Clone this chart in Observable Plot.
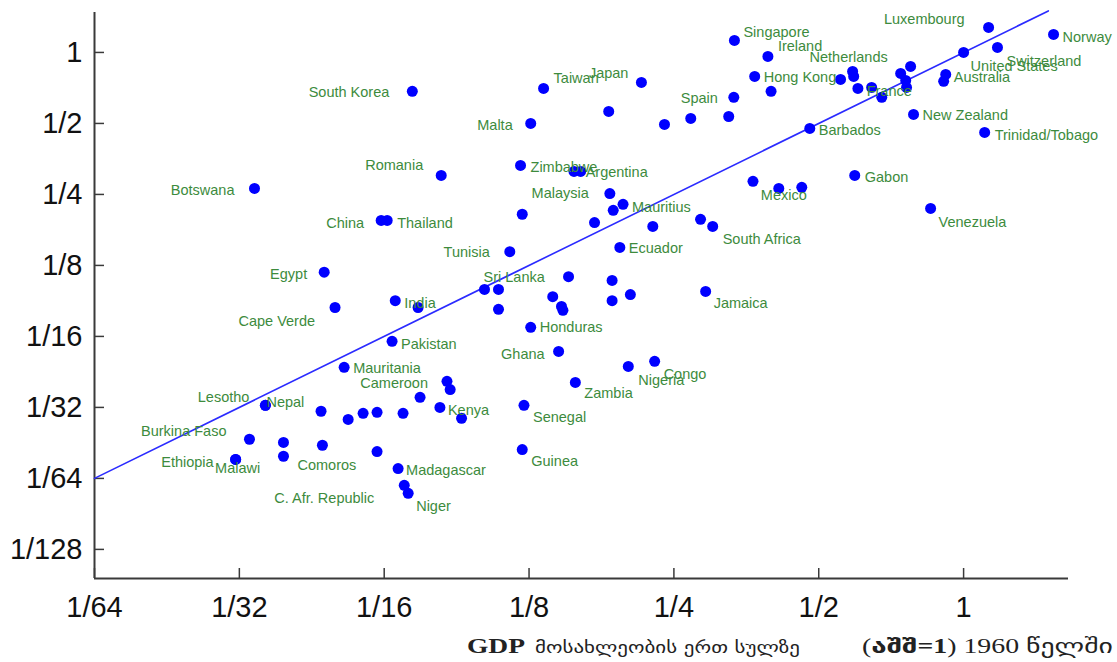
<!DOCTYPE html>
<html><head><meta charset="utf-8">
<script src="https://cdn.jsdelivr.net/npm/d3@7"></script>
<script src="https://cdn.jsdelivr.net/npm/@observablehq/plot@0.6"></script>
<style>
body{margin:0;background:#fff;}
#wrap{position:relative;width:1117px;height:662px;overflow:hidden;background:#fff;}
#chart{position:absolute;left:0;top:0;}
#ytitle{position:absolute;left:0px;top:-16px;font-size:19px;font-family:"Liberation Serif","DejaVu Sans",serif;color:#222;white-space:nowrap;}
#caption{position:absolute;left:0;top:628px;}
</style></head>
<body><div id="wrap"><div id="ytitle">(<b>აშშ=1</b>) 2000 წელში</div><div id="chart"></div>
<svg id="caption" width="1117" height="34">
  <text x="467" y="25" font-family="Liberation Serif, serif" font-weight="bold" font-size="22" fill="#222" textLength="58" lengthAdjust="spacingAndGlyphs">GDP</text>
  <text x="535" y="25" font-family="DejaVu Sans, sans-serif" font-size="16" fill="#222" textLength="265" lengthAdjust="spacingAndGlyphs">მოსახლეობის ერთ სულზე</text>
  <text x="862" y="25" font-family="Liberation Serif, DejaVu Sans, serif" font-size="20" fill="#222" textLength="251" lengthAdjust="spacingAndGlyphs">(<tspan font-weight="bold">აშშ=1</tspan>) 1960 წელში</text>
</svg>
</div>
<script>
const countries = ["South Korea","Botswana","Taiwan","Japan","","Malta","","","Spain","",
"Singapore","Ireland","Hong Kong","","","Netherlands","","","France","",
"","","","","United States","Luxembourg","Switzerland","Norway","Australia","",
"New Zealand","Trinidad/Tobago","Barbados","Gabon","","Mexico","","Venezuela","Romania","Zimbabwe",
"","Argentina","Malaysia","Mauritius","","","","","South Africa","",
"Ecuador","Tunisia","China","Thailand","Egypt","Cape Verde","India","","Sri Lanka","",
"","","","","","","","","Jamaica","Honduras",
"Pakistan","Ghana","Nigeria","Congo","Zambia","Mauritania","Cameroon","","","Kenya",
"","Senegal","Guinea","","","Madagascar","C. Afr. Republic","Niger","","Nepal",
"Lesotho","","","","Burkina Faso","","Comoros","","Ethiopia","Malawi"];
const gdp1960 = [0.0715,0.0336,0.134,0.214,0.183,0.126,0.239,0.271,0.333,0.325,
0.334,0.392,0.368,0.398,0.555,0.588,0.591,0.603,0.644,0.676,
0.740,0.776,0.758,0.761,1,1.127,1.176,1.538,0.918,0.909,
0.787,1.106,0.479,0.594,0.365,0.413,0.461,0.854,0.0821,0.120,
0.155,0.160,0.184,0.196,0.187,0.121,0.171,0.284,0.301,0.226,
0.193,0.114,0.0616,0.0634,0.0469,0.0494,0.0659,0.0735,0.101,0.108,
0.151,0.186,0.140,0.146,0.147,0.186,0.203,0.108,0.291,0.126,
0.0649,0.144,0.201,0.228,0.156,0.0516,0.0844,0.0857,0.0742,0.0816,
0.0905,0.122,0.121,0.0684,0.0604,0.0668,0.0688,0.0701,0.0604,0.0354,
0.0354,0.0462,0.0526,0.0565,0.0328,0.0386,0.0386,0.0465,0.0307,0.0307];
const gdp2000 = [0.684,0.265,0.704,0.746,0.562,0.500,0.495,0.525,0.645,0.535,
1.124,0.962,0.791,0.684,0.768,0.831,0.791,0.704,0.711,0.645,
0.815,0.872,0.761,0.711,1,1.276,1.050,1.192,0.807,0.754,
0.546,0.458,0.476,0.301,0.284,0.265,0.268,0.218,0.301,0.332,
0.313,0.313,0.252,0.227,0.214,0.206,0.190,0.196,0.183,0.183,
0.149,0.143,0.194,0.194,0.117,0.0829,0.0886,0.0829,0.0989,0.0989,
0.112,0.108,0.0921,0.0838,0.0806,0.0886,0.0940,0.0814,0.0970,0.0683,
0.0596,0.0540,0.0466,0.0490,0.0399,0.0462,0.0403,0.0372,0.0345,0.03125,
0.0281,0.0319,0.0207,0.0295,0.0298,0.0172,0.0146,0.0135,0.0203,0.0319,
0.0319,0.0301,0.0278,0.0295,0.0229,0.0222,0.0194,0.0216,0.0188,0.0188];
const xTicks = [1/64,1/32,1/16,1/8,1/4,1/2,1];
const xTickLabels = ["1/64","1/32","1/16","1/8","1/4","1/2","1"];
const yTicks = [1/128,1/64,1/32,1/16,1/8,1/4,1/2,1];
const yTickLabels = ["1/128","1/64","1/32","1/16","1/8","1/4","1/2","1"];
const fitSlope = 1, fitIntercept = 1;
const fitRange = [1/64, 1.5];

// label layout (anchor, dx, dy in px)
const place = {
"South Korea":["end",-23,1],"Botswana":["end",-20,2],"Taiwan":["start",10,-10],"Japan":["end",-13,-9],
"Malta":["end",-18,2],"Spain":["end",-16,1],"Singapore":["start",9,-8],"Ireland":["start",10,-10],
"Hong Kong":["start",9,1],"Netherlands":["middle",-4,-14],"France":["start",-5,4],"United States":["start",7,14],
"Luxembourg":["end",-24,-8],"Switzerland":["start",9,14],"Norway":["start",9,3],"Australia":["start",8,3],
"New Zealand":["start",9,1],"Trinidad/Tobago":["start",10,3],"Barbados":["start",9,2],"Gabon":["start",10,2],
"Mexico":["middle",5,7],"Venezuela":["start",8,14],"Romania":["end",-18,-10],"Zimbabwe":["start",10,2],
"Argentina":["start",5,1],"Malaysia":["end",-21,0],"Mauritius":["start",9,3],"South Africa":["start",10,13],
"Ecuador":["start",9,1],"Tunisia":["end",-20,1],"China":["end",-17,3],"Thailand":["start",10,3],
"Egypt":["end",-17,2],"Cape Verde":["end",-20,14],"India":["start",9,3],"Sri Lanka":["start",-1,-12],
"Jamaica":["start",8,12],"Honduras":["start",9,0],"Pakistan":["start",9,3],"Ghana":["end",-14,3],
"Nigeria":["start",10,14],"Congo":["start",9,13],"Zambia":["start",9,11],"Mauritania":["start",9,1],
"Cameroon":["end",-19,2],"Kenya":["start",8,3],"Senegal":["start",9,12],"Guinea":["start",9,12],
"Madagascar":["start",8,2],"Niger":["start",8,13],"C. Afr. Republic":["end",-30,13],"Lesotho":["end",-16,-8],
"Nepal":["start",1,-3],"Burkina Faso":["end",-23,-8],"Ethiopia":["end",-22,3],"Malawi":["middle",2,9],
"Comoros":["start",14,9]
};

const data = countries.map((name,i)=>({name, x:gdp1960[i], y:gdp2000[i]}));
const fit = fitRange.map(x=>({x, y: fitIntercept*Math.pow(x, fitSlope)}));
const xDomain = [1/64, 1.652];
const yDomain = [0.00588, 1.477];
const axisColor = "#3a3a3a";
const labelColor = "#3d8b3d";
const font = "'Liberation Sans', Arial, sans-serif";

const labelMarks = data.filter(d=>d.name).map(d=>{
  const p = place[d.name] || ["start",8,0];
  return Plot.text([d], {x:"x", y:"y", text:"name", textAnchor:p[0], dx:p[1], dy:p[2],
    fill:labelColor, fontSize:14.5, fontFamily:font});
});

const plot = Plot.plot({
  width:1117, height:628,
  marginLeft:94, marginRight:49, marginTop:12, marginBottom:50,
  style:{fontFamily:font, background:"#fff"},
  x:{type:"log", base:2, domain:xDomain},
  y:{type:"log", base:2, domain:yDomain},
  marks:[
    Plot.axisX(xTicks, {anchor:"bottom", tickSize:0, tickPadding:18, label:null,
      tickFormat:d=>xTickLabels[xTicks.indexOf(d)], fontSize:29, fill:"#111"}),
    Plot.axisX(xTicks, {anchor:"bottom", tickSize:-10, label:null, tickFormat:()=>"", stroke:axisColor, strokeWidth:1.5}),
    Plot.axisY(yTicks, {anchor:"left", tickSize:0, tickPadding:12, label:null,
      tickFormat:d=>yTickLabels[yTicks.indexOf(d)], fontSize:29, fill:"#111"}),
    Plot.axisY(yTicks, {anchor:"left", tickSize:-10, label:null, tickFormat:()=>"", stroke:axisColor, strokeWidth:1.5}),
    Plot.ruleY([yDomain[0]], {stroke:axisColor, strokeWidth:2}),
    Plot.ruleX([xDomain[0]], {stroke:axisColor, strokeWidth:2}),
    Plot.line(fit, {x:"x", y:"y", stroke:"#2b2bff", strokeWidth:1.6}),
    Plot.dot(data, {x:"x", y:"y", r:5.5, fill:"#0000ff", stroke:"none"}),
    ...labelMarks
  ]
});
document.getElementById("chart").appendChild(plot);
</script></body></html>
